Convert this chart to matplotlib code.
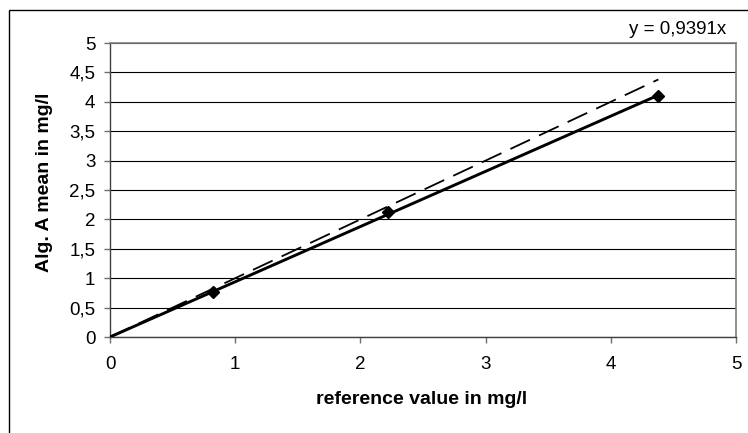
import matplotlib
matplotlib.use("Agg")
import matplotlib.pyplot as plt
from matplotlib.patches import Rectangle
from matplotlib.ticker import FuncFormatter, MultipleLocator

plt.rcParams['font.family'] = ['Liberation Sans', 'DejaVu Sans']

ref_values = [0.82, 2.22, 4.38]
alg_a_means = [0.77, 2.13, 4.10]
slope = 0.9391
equation = "y = 0,9391x"
xlabel = "reference value in mg/l"
ylabel = "Alg. A mean in mg/l"

W, H = 748, 433
fig = plt.figure(figsize=(W/100, H/100), dpi=100)
fig.patch.set_facecolor('white')

# outer chart border
fig.patches.append(Rectangle((9/W, -0.1), 1.1, (H-10)/H + 0.1, transform=fig.transFigure,
                             fill=False, edgecolor='black', linewidth=1.0))

ax = fig.add_axes([110/W, (H-337)/H, (736-110)/W, (337-43)/H])
ax.set_xlim(0, 5)
ax.set_ylim(0, 5)

for sp in ['top', 'right']:
    ax.spines[sp].set_color('#808080')
    ax.spines[sp].set_linewidth(1.2)
for sp in ['left', 'bottom']:
    ax.spines[sp].set_color('#404040')
    ax.spines[sp].set_linewidth(1.0)

ax.yaxis.set_major_locator(MultipleLocator(0.5))
ax.xaxis.set_major_locator(MultipleLocator(1))
fmt = FuncFormatter(lambda v, p: (f"{v:g}").replace('.', ','))
ax.yaxis.set_major_formatter(fmt)
ax.xaxis.set_major_formatter(fmt)
ax.tick_params(axis='both', direction='out', length=4.5, width=1, color='#707070',
               labelsize=13.5, labelcolor='black')
ax.tick_params(axis='x', pad=9)
ax.tick_params(axis='y', pad=6)

ax.grid(axis='y', color='black', linewidth=0.8)
ax.set_axisbelow(True)

xmax = max(ref_values)
# dashed y = x line
ax.plot([0, xmax], [0, xmax], linestyle=(0, (12, 5.5)), color='black', linewidth=1.3, zorder=3)
# trend line
ax.plot([0, xmax], [0, slope * xmax], color='black', linewidth=2.1, zorder=4)
# data points
ax.plot(ref_values, alg_a_means, linestyle='none', marker='D', markersize=6.5,
        color='black', zorder=5)

fig.text(422/W, (H-400)/H, xlabel, ha='center', va='center', fontsize=14, fontweight='bold')
fig.text(45/W, (H-182)/H, ylabel, ha='center', va='center', fontsize=14, fontweight='bold',
         rotation=90)

fig.text(726/W, (H-30)/H, equation, ha='right', va='center', fontsize=13.5)

fig.savefig("out.png", dpi=100, facecolor='white')
